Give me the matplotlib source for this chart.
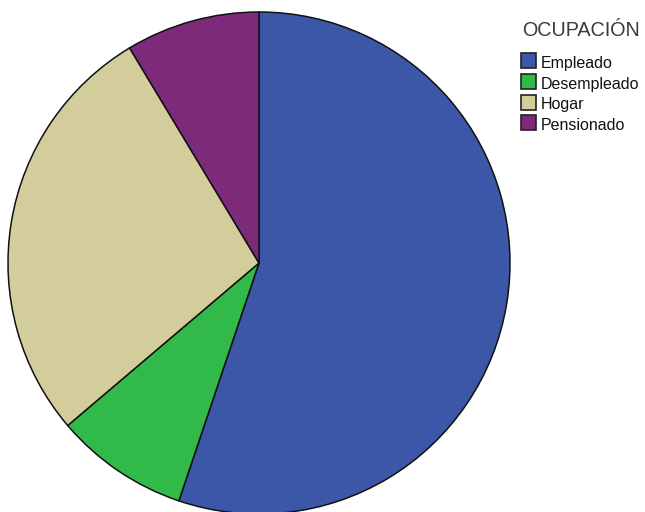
import matplotlib
matplotlib.use("Agg")
import matplotlib.pyplot as plt
from matplotlib.patches import Rectangle

labels = ["Empleado", "Desempleado", "Hogar", "Pensionado"]
counts = [32, 5, 16, 5]
colors = ["#3D57A8", "#31B94A", "#D3CD9B", "#7E2A7A"]
legend_title = "OCUPACIÓN"

H = 512
fig = plt.figure(figsize=(6.45, 5.12), dpi=100)
ax = fig.add_axes([0, 0, 1, 1])

ax.pie(counts, colors=colors, startangle=90, counterclock=False,
       center=(259, H - 263), radius=251,
       wedgeprops={"edgecolor": "#111111", "linewidth": 1.1}, frame=True)
ax.set_xlim(0, 645)
ax.set_ylim(0, H)
ax.set_aspect("equal")
ax.axis("off")

# legend drawn by hand in pixel coords
ax.text(522, H - 36.5, legend_title, fontsize=14.2, color="#3a3a3a",
        family="Liberation Sans", va="baseline", ha="left")
for i, (lab, col) in enumerate(zip(labels, colors)):
    bottom = 68.3 + i * 20.7
    ax.add_patch(Rectangle((521, H - bottom), 15, 15, facecolor=col,
                           edgecolor="#222222", linewidth=1.2))
    ax.text(540.5, H - bottom + 0.5, lab, fontsize=11.5, color="#111111",
            family="Liberation Sans", va="baseline", ha="left")

fig.savefig("out.png", dpi=100)
